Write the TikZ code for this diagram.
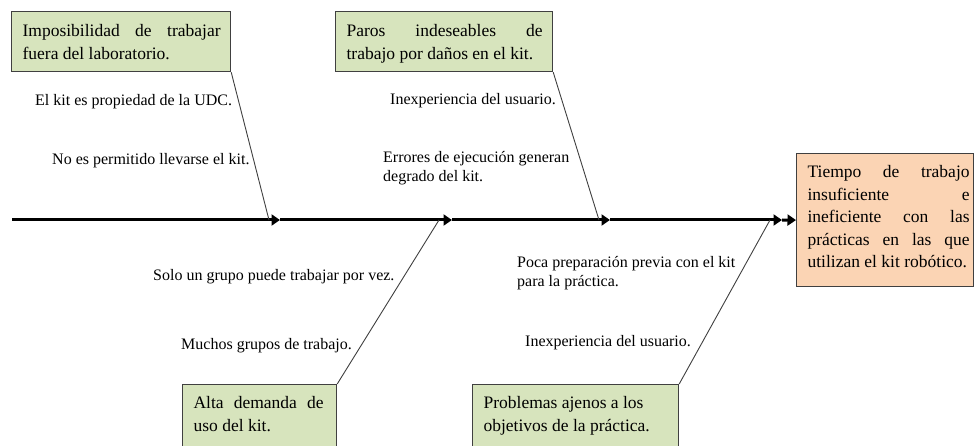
\documentclass[tikz,border=0pt]{standalone}
\usepackage{fontspec}
\setmainfont{Liberation Serif}
\usetikzlibrary{arrows.meta}
\definecolor{boxgreen}{HTML}{D7E4BD}
\definecolor{boxpeach}{HTML}{FBD4B4}
\definecolor{edgegray}{HTML}{404040}
\newcommand\myboxfont{\fontsize{17.5}{22.6}\selectfont}
\newcommand\mylblfont{\fontsize{16}{18.5}\selectfont}
\tikzset{
  causebox/.style={draw=edgegray, line width=1.2pt, fill=boxgreen, inner xsep=0pt, inner ysep=0pt, anchor=north west, font=\myboxfont},
  effectbox/.style={causebox, fill=boxpeach},
  lbl/.style={inner sep=0pt, anchor=base west, font=\mylblfont},
  spine/.style={line width=3pt, -{Triangle[length=8.5pt,width=11pt]}},
  bone/.style={draw=edgegray, line width=0.9pt},
}
\begin{document}
\begin{tikzpicture}[x=1pt,y=-1pt]
\clip (0,0) rectangle (974,446);
\fill[white] (0,0) rectangle (974,446);
% boxes
\node[causebox] (tl) at (11,11) {\hspace*{11pt}\parbox[t][60pt][t]{198pt}{\rule{0pt}{25pt}Imposibilidad\hfill de\hfill trabajar\\fuera del laboratorio.}\hspace*{10pt}};
\node[causebox] (tm) at (335,11) {\hspace*{11pt}\parbox[t][60pt][t]{196pt}{\rule{0pt}{25pt}Paros\hfill indeseables\hfill de\\trabajo por daños en el kit.}\hspace*{10pt}};
\node[effectbox] (rb) at (796,153) {\hspace*{11pt}\parbox[t][133pt][t]{162pt}{\rule{0pt}{24pt}Tiempo\hfill de\hfill trabajo\\insuficiente\hfill e\\ineficiente\hfill con\hfill las\\prácticas\hfill en\hfill las\hfill que\\utilizan el kit robótico.}\hspace*{4pt}};
\node[causebox] (bl) at (182,384) {\hspace*{11pt}\parbox[t][75pt][t]{130pt}{\rule{0pt}{24pt}Alta\hfill demanda\hfill de\\uso del kit.}\hspace*{13pt}};
\node[causebox] (br) at (472,384) {\hspace*{11pt}\parbox[t][75pt][t]{185pt}{\rule{0pt}{24pt}Problemas ajenos a los\\objetivos de la práctica.}\hspace*{10pt}};
% labels
\node[lbl] (l1) at (35,106) {El kit es propiedad de la UDC.};
\node[lbl] (l2) at (52,165) {No es permitido llevarse el kit.};
\node[lbl] (l3) at (390,105) {Inexperiencia del usuario.};
\node[lbl] (l4) at (383,163) {\parbox[t]{220pt}{Errores de ejecución generan\\degrado del kit.}};
\node[lbl] (l5) at (153,280) {Solo un grupo puede trabajar por vez.};
\node[lbl] (l6) at (181,349) {Muchos grupos de trabajo.};
\node[lbl] (l7) at (517,268) {\parbox[t]{240pt}{Poca preparación previa con el kit\\para la práctica.}};
\node[lbl] (l8) at (525,346) {Inexperiencia del usuario.};
% spine
\coordinate (s0) at (12,220);
\coordinate (a1) at (280,220);
\coordinate (a2) at (452,220);
\coordinate (a3) at (610,220);
\coordinate (a4) at (782,220);
\coordinate (j1) at (269,220);
\coordinate (j2) at (439,220);
\coordinate (j3) at (599,220);
\coordinate (j4) at (770,220);
\draw[spine] (s0) -- (a1);
\draw[spine] (a1) -- (a2);
\draw[spine] (a2) -- (a3);
\draw[spine] (a3) -- (a4);
\draw[spine] (a4) -- (rb.west);
% bones
\draw[bone] (tl.south east) -- (j1);
\draw[bone] (tm.south east) -- (j3);
\draw[bone] (bl.north east) -- (j2);
\draw[bone] (br.north east) -- (j4);
\end{tikzpicture}
\end{document}
